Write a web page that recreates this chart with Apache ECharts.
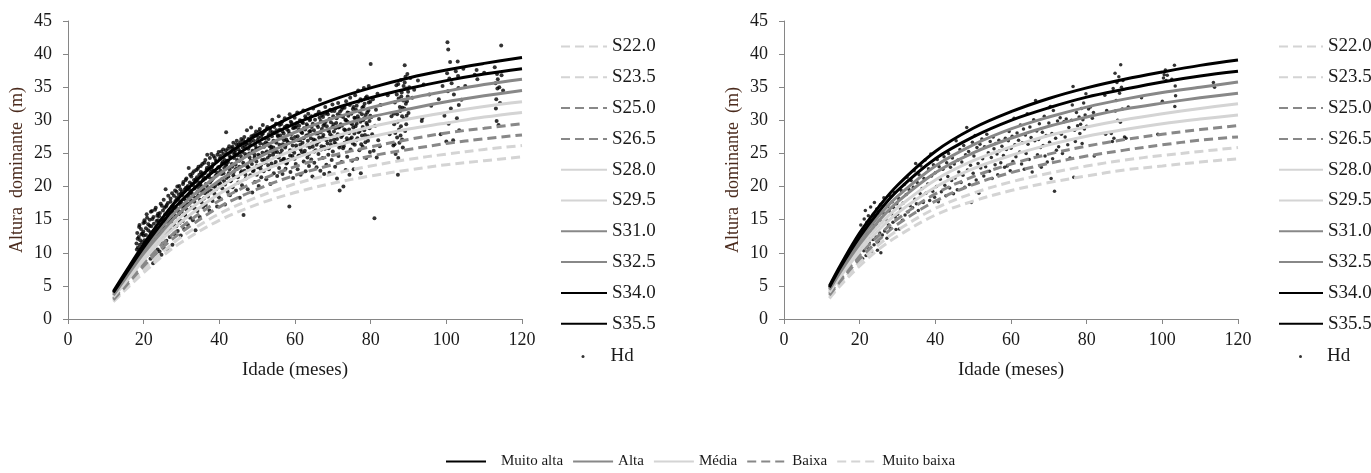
<!DOCTYPE html>
<html>
<head>
<meta charset="utf-8">
<script src="https://cdn.jsdelivr.net/npm/echarts@6/dist/echarts.min.js"></script>
<style>
  html, body { margin: 0; background: #fff; }
  #chart { width: 1371px; height: 473px; }
</style>
</head>
<body>
<div id="chart"></div>
<script>
const ages = [12, 15, 20, 25, 30, 40, 50, 60, 70, 80, 90, 100, 110, 120]
const siteNames = ['S22.0', 'S23.5', 'S25.0', 'S26.5', 'S28.0', 'S29.5', 'S31.0', 'S32.5', 'S34.0', 'S35.5']
const classNames = ['Muito alta', 'Alta', 'Média', 'Baixa', 'Muito baixa']
const xTicks = [0, 20, 40, 60, 80, 100, 120]
const yTicks = [0, 5, 10, 15, 20, 25, 30, 35, 40, 45]

// left panel, one row per site curve (same order as siteNames)
const curvesLeft = [
  [2.6, 4.3, 7.0, 9.5, 11.6, 14.9, 17.3, 19.1, 20.5, 21.6, 22.5, 23.3, 23.9, 24.5],
  [2.8, 4.5, 7.5, 10.1, 12.4, 15.9, 18.4, 20.4, 21.9, 23.1, 24.1, 24.9, 25.6, 26.2],
  [2.9, 4.8, 8.0, 10.8, 13.1, 16.9, 19.6, 21.7, 23.3, 24.6, 25.6, 26.5, 27.2, 27.8],
  [3.1, 5.1, 8.5, 11.4, 13.9, 17.9, 20.8, 23.0, 24.7, 26.0, 27.1, 28.1, 28.8, 29.5],
  [3.3, 5.4, 8.9, 12.1, 14.7, 18.9, 22.0, 24.3, 26.1, 27.5, 28.7, 29.6, 30.5, 31.2],
  [3.5, 5.7, 9.4, 12.7, 15.5, 19.9, 23.1, 25.6, 27.5, 29.0, 30.2, 31.2, 32.1, 32.8],
  [3.6, 6.0, 9.9, 13.3, 16.3, 20.9, 24.3, 26.9, 28.9, 30.5, 31.7, 32.8, 33.7, 34.5],
  [3.8, 6.3, 10.4, 14.0, 17.1, 21.9, 25.5, 28.2, 30.3, 31.9, 33.3, 34.4, 35.4, 36.2],
  [4.0, 6.6, 10.8, 14.6, 17.9, 23.0, 26.7, 29.5, 31.7, 33.4, 34.8, 36.0, 37.0, 37.8],
  [4.2, 6.9, 11.3, 15.3, 18.7, 24.0, 27.8, 30.8, 33.1, 34.9, 36.4, 37.6, 38.6, 39.5]
]

// right panel
const curvesRight = [
  [3.1, 5.1, 8.0, 10.5, 12.5, 15.7, 17.8, 19.4, 20.6, 21.6, 22.5, 23.1, 23.7, 24.2],
  [3.3, 5.5, 8.6, 11.2, 13.4, 16.7, 19.0, 20.7, 22.0, 23.1, 24.0, 24.7, 25.3, 25.9],
  [3.6, 5.8, 9.1, 11.9, 14.3, 17.8, 20.3, 22.1, 23.5, 24.6, 25.5, 26.3, 27.0, 27.5],
  [3.8, 6.1, 9.7, 12.6, 15.1, 18.9, 21.5, 23.4, 24.9, 26.1, 27.1, 27.9, 28.6, 29.2],
  [4.0, 6.5, 10.2, 13.4, 16.0, 19.9, 22.7, 24.7, 26.3, 27.6, 28.6, 29.5, 30.2, 30.8],
  [4.2, 6.8, 10.8, 14.1, 16.8, 21.0, 23.9, 26.0, 27.7, 29.0, 30.1, 31.0, 31.8, 32.5],
  [4.4, 7.2, 11.3, 14.8, 17.7, 22.1, 25.1, 27.3, 29.1, 30.5, 31.7, 32.6, 33.4, 34.1],
  [4.6, 7.5, 11.9, 15.5, 18.5, 23.1, 26.3, 28.7, 30.5, 32.0, 33.2, 34.2, 35.0, 35.8],
  [4.8, 7.9, 12.4, 16.2, 19.4, 24.2, 27.5, 30.0, 31.9, 33.5, 34.7, 35.8, 36.7, 37.4],
  [5.0, 8.2, 13.0, 16.9, 20.2, 25.3, 28.8, 31.3, 33.3, 34.9, 36.2, 37.3, 38.3, 39.1]
]

// observed dominant heights [age, Hd], left panel
const hdLeft = [
  [18.2,10.5],[18.4,12.1],[18.6,9.4],[18.8,13.9],[19.0,11.2],[19.2,10.1],[19.4,12.8],[19.6,11.6],[19.8,9.8],[19.9,13.2],
  [20.1,8.3],[20.2,11.9],[20.3,14.6],[20.5,10.4],[20.6,12.7],[20.8,9.6],[20.9,15.3],[21.0,11.3],[21.2,13.4],[21.3,10.0],[21.5,12.2],[21.6,14.1],[21.8,9.1],[21.9,16.2],[21.9,11.8],
  [22.1,10.7],[22.2,13.0],[22.3,15.1],[22.5,8.4],[22.6,12.3],[22.7,14.4],[22.9,11.0],[23.0,16.5],[23.1,9.9],[23.3,13.7],[23.4,12.0],[23.6,15.6],[23.7,10.5],[23.8,14.9],[23.9,11.6],
  [24.0,13.2],[24.2,10.2],[24.3,16.0],[24.4,12.5],[24.6,14.3],[24.7,9.7],[24.8,17.1],[25.0,11.4],[25.1,15.2],[25.2,13.8],[25.4,10.6],[25.5,16.8],[25.7,12.9],[25.8,19.6],[25.9,14.7],
  [26.0,11.8],[26.1,15.9],[26.3,13.1],[26.4,17.5],[26.5,10.4],[26.7,14.6],[26.8,16.4],[26.9,12.4],[27.1,18.2],[27.2,15.0],[27.3,13.5],[27.5,17.0],[27.6,11.2],[27.8,16.1],[27.9,14.2],
  [28.0,18.6],[28.2,12.8],[28.3,15.4],[28.4,17.8],[28.6,14.0],[28.7,19.2],[28.8,16.6],[29.0,13.3],[29.1,18.0],[29.3,15.8],[29.4,20.1],[29.5,14.5],[29.7,17.3],[29.8,12.6],[29.9,19.0],
  [30.0,16.2],[30.2,18.7],[30.3,14.8],[30.4,20.4],[30.6,17.1],[30.7,13.6],[30.8,19.5],[31.0,15.6],[31.1,21.0],[31.3,17.9],[31.4,16.5],[31.5,19.9],[31.7,14.2],[31.8,18.4],[31.9,22.8],
  [32.0,17.4],[32.2,20.6],[32.3,15.3],[32.4,19.1],[32.6,21.5],[32.7,16.8],[32.8,18.9],[33.0,14.9],[33.1,20.2],[33.3,22.3],[33.4,17.7],[33.5,19.7],[33.7,13.4],[33.8,21.1],[33.9,18.3],
  [34.0,20.9],[34.2,16.3],[34.3,22.7],[34.4,18.6],[34.6,19.8],[34.7,21.8],[34.8,15.4],[35.0,20.3],[35.1,23.1],[35.3,17.6],[35.4,19.3],[35.5,22.0],[35.7,16.9],[35.8,21.4],[35.9,18.2],
  [36.0,23.6],[36.2,19.0],[36.3,21.2],[36.4,17.2],[36.6,22.5],[36.7,20.1],[36.8,24.8],[37.0,18.5],[37.1,21.7],[37.3,23.0],[37.4,16.4],[37.5,20.6],[37.7,22.2],[37.8,19.4],[37.9,24.9],
  [38.0,21.0],[38.2,17.8],[38.3,23.4],[38.4,20.0],[38.6,22.4],[38.7,18.9],[38.8,24.3],[39.0,21.6],[39.1,19.6],[39.3,23.8],[39.4,17.0],[39.5,22.1],[39.7,20.4],[39.8,25.2],[39.9,18.4],
  [40.0,22.9],[40.2,20.5],[40.3,24.6],[40.4,18.1],[40.6,21.9],[40.7,23.5],[40.8,19.7],[41.0,25.6],[41.1,22.0],[41.3,20.8],[41.4,24.0],[41.5,17.3],[41.7,23.2],[41.8,28.2],[41.9,21.3],
  [42.0,25.0],[42.2,19.2],[42.3,23.7],[42.4,21.5],[42.6,26.1],[42.7,22.6],[42.8,18.7],[43.0,24.4],[43.1,20.9],[43.3,25.8],[43.4,23.0],[43.5,19.9],[43.7,26.6],[43.8,22.2],[43.9,24.9],
  [44.0,21.4],[44.2,25.5],[44.3,23.3],[44.4,19.4],[44.6,26.9],[44.7,22.7],[44.8,24.7],[45.0,20.6],[45.1,26.3],[45.3,23.9],[45.4,18.3],[45.5,25.3],[45.7,22.1],[45.8,27.2],[45.9,24.2],
  [46.0,20.2],[46.2,25.9],[46.3,23.6],[46.4,15.7],[46.6,27.5],[46.7,22.4],[46.8,24.9],[47.0,21.2],[47.1,26.4],[47.3,28.5],[47.4,23.1],[47.5,19.6],[47.7,25.7],[47.8,22.8],[47.9,27.0],
  [48.0,24.4],[48.2,21.7],[48.3,26.8],[48.4,28.9],[48.6,23.4],[48.7,19.1],[48.8,25.4],[49.0,27.7],[49.1,22.5],[49.3,24.8],[49.4,20.7],[49.5,26.2],[49.7,28.3],[49.8,23.8],[49.9,21.8],
  [50.0,25.8],[50.2,22.9],[50.3,27.4],[50.4,20.1],[50.6,24.6],[50.7,28.7],[50.8,26.5],[51.0,23.2],[51.1,21.4],[51.3,27.9],[51.4,25.1],[51.5,29.3],[51.7,22.3],[51.8,26.0],[51.9,24.1],
  [52.0,28.4],[52.2,23.7],[52.3,26.7],[52.4,21.1],[52.6,25.3],[52.7,29.0],[52.8,24.3],[53.0,27.2],[53.1,22.6],[53.3,26.1],[53.4,28.8],[53.5,20.4],[53.7,25.6],[53.8,23.5],[53.9,27.6],
  [54.0,30.1],[54.2,24.8],[54.3,26.9],[54.4,22.0],[54.6,28.1],[54.7,25.2],[54.8,23.3],[55.0,29.5],[55.1,26.6],[55.3,21.6],[55.4,27.8],[55.5,24.5],[55.7,30.6],[55.8,22.8],[55.9,26.3],
  [56.0,28.6],[56.2,25.0],[56.3,23.9],[56.4,27.3],[56.6,29.8],[56.7,21.9],[56.8,26.4],[57.0,28.0],[57.1,24.2],[57.3,30.3],[57.4,25.9],[57.5,22.7],[57.7,27.1],[57.8,29.2],[57.9,23.6],
  [58.0,26.8],[58.2,24.0],[58.3,28.4],[58.5,17.0],[58.6,30.9],[58.7,25.5],[58.8,22.2],[59.0,27.9],[59.1,29.6],[59.3,24.6],[59.4,26.2],[59.5,21.3],[59.7,28.9],[59.8,25.1],[59.9,30.4],
  [60.0,27.5],[60.2,23.4],[60.3,29.1],[60.4,25.8],[60.6,31.2],[60.7,22.6],[60.8,27.0],[61.0,28.6],[61.1,24.7],[61.3,30.0],[61.4,26.3],[61.5,21.8],[61.7,28.2],[61.8,25.2],[61.9,29.7],
  [62.0,26.6],[62.2,31.5],[62.3,23.8],[62.4,28.8],[62.6,25.4],[62.7,30.6],[62.8,22.3],[63.0,27.7],[63.1,29.4],[63.3,24.4],[63.4,26.9],[63.5,31.0],[63.7,23.1],[63.8,28.3],[63.9,25.9],
  [64.0,30.2],[64.2,27.3],[64.3,24.1],[64.4,29.0],[64.6,21.5],[64.7,26.0],[64.8,31.8],[65.0,28.5],[65.1,23.6],[65.3,27.0],[65.4,30.8],[65.5,25.5],[65.7,22.9],[65.8,29.3],[65.9,26.7],
  [66.0,28.0],[66.2,24.9],[66.3,31.3],[66.4,27.4],[66.6,33.1],[66.7,22.4],[66.8,29.9],[67.0,26.1],[67.1,28.7],[67.3,24.3],[67.4,30.5],[67.5,27.8],[67.7,21.9],[67.8,29.5],[67.9,25.7],
  [68.0,32.0],[68.2,27.2],[68.3,23.3],[68.4,29.1],[68.6,26.5],[68.7,30.9],[68.8,24.8],[69.0,28.3],[69.1,22.1],[69.3,31.6],[69.4,26.9],[69.5,29.7],[69.7,24.0],[69.8,27.6],[69.9,32.4],
  [70.0,25.3],[70.2,29.4],[70.3,27.1],[70.4,31.4],[70.6,23.0],[70.7,28.8],[70.8,26.4],[71.0,30.3],[71.1,21.2],[71.3,27.9],[71.4,32.6],[71.5,24.6],[71.7,29.0],[71.8,19.4],[71.9,26.2],
  [72.0,30.7],[72.2,27.5],[72.3,23.7],[72.4,29.2],[72.6,31.9],[72.7,25.8],[72.8,20.0],[73.0,28.6],[73.1,26.6],[73.3,30.1],[73.4,22.5],[73.5,32.9],[73.7,27.3],[73.8,24.5],[73.9,29.8],
  [74.0,26.9],[74.2,31.1],[74.3,28.1],[74.4,21.8],[74.6,33.4],[74.7,25.6],[74.8,29.6],[75.0,27.4],[75.1,23.9],[75.3,31.7],[75.4,28.9],[75.5,22.6],[75.7,30.4],[75.8,26.3],[75.9,33.8],
  [76.0,29.1],[76.2,27.0],[76.3,32.2],[76.4,24.2],[76.6,30.6],[76.7,34.5],[76.8,28.2],[77.0,25.5],[77.1,31.3],[77.3,29.8],[77.4,22.0],[77.5,33.0],[77.7,27.7],[77.8,31.9],[77.9,26.0],
  [78.0,30.0],[78.2,34.9],[78.3,28.5],[78.4,32.5],[78.6,26.7],[78.7,30.8],[78.8,24.3],[79.0,33.6],[79.1,29.3],[79.3,27.6],[79.4,31.5],[79.5,35.2],[79.7,29.9],[79.8,25.2],[79.9,32.8],
  [80.0,38.5],[80.2,30.5],[80.4,27.9],[80.6,33.2],[80.8,25.4],[81.0,15.2],[81.2,29.2],[81.4,31.6],[81.6,24.4],[81.8,34.0],[82.0,27.0],[82.2,30.2],[82.4,26.1],[82.6,32.3],
  [84.5,33.8],[85.0,27.9],[85.5,30.6],[86.0,26.2],[86.2,29.4],[86.4,32.7],[86.6,24.9],[86.8,35.3],[87.0,27.4],[87.0,30.9],[87.2,21.8],[87.4,33.3],[87.5,28.6],[87.6,26.6],[87.8,31.4],
  [88.0,36.1],[88.0,29.1],[88.2,34.2],[88.3,27.1],[88.4,31.9],[88.6,33.0],[88.8,30.2],[89.0,38.3],[89.0,35.7],[89.1,28.4],[89.3,32.5],[89.4,34.8],[89.5,30.7],[89.7,37.0],[89.8,33.6],
  [90.0,31.1],[90.2,35.0],[90.5,36.4],[91.0,33.4],[91.5,34.6],[87.3,24.3],[86.3,26.4],[88.5,25.9],
  [86.1,31.0],[86.5,28.1],[86.9,33.9],[87.1,29.8],[87.3,35.5],[87.7,32.0],[87.9,27.7],[88.1,33.6],[88.3,30.6],[88.7,35.2],[88.9,31.8],[89.2,36.6],[89.4,29.4],[89.6,32.9],[89.9,34.3],
  [92.5,36.0],[93.5,29.9],[93.6,30.3],[94.0,35.4],[95.5,33.9],[96.0,32.2],
  [98.0,33.2],[98.5,27.9],[99.0,35.2],[99.5,30.7],[100.0,26.8],[100.2,37.1],[100.3,41.8],[100.4,34.4],[100.5,40.7],[100.6,29.5],[100.8,36.3],[101.0,38.8],[101.2,31.8],
  [101.4,35.6],[101.8,27.0],[102.0,33.9],[102.5,37.4],[102.8,30.3],[103.0,38.9],[103.1,36.7],[103.2,34.9],[103.3,32.3],[103.4,28.5],[104.0,33.1],[104.5,37.8],[105.0,35.2],
  [107.5,36.9],[108.0,37.6],[108.2,36.2],[110.0,37.2],
  [112.8,38.0],[113.0,35.6],[113.1,31.8],[113.2,33.2],[113.3,29.9],[113.4,37.0],[113.5,34.8],[113.6,36.2],[114.0,35.0],[114.2,32.6],[114.5,41.3],[114.6,36.8],[115.0,34.5],[113.8,29.3],
  // denser upper band of the cloud
  [18.1,11.4],[18.3,13.0],[18.5,10.8],[18.7,12.4],[18.9,14.2],[19.1,11.9],[19.3,13.6],[19.5,10.6],[19.7,12.9],[19.9,14.5],
  [20.0,12.6],[20.2,14.9],[20.4,11.1],[20.6,13.7],[20.8,15.8],[21.0,12.0],[21.2,14.3],[21.4,10.9],[21.6,15.0],[21.8,13.1],
  [22.0,14.0],[22.2,16.3],[22.4,12.5],[22.6,15.4],[22.8,13.3],[23.0,11.6],[23.2,16.8],[23.4,14.8],[23.6,12.8],[23.8,15.9],
  [24.1,15.5],[24.3,13.5],[24.5,17.4],[24.7,14.9],[24.9,12.3],[25.1,16.4],[25.3,18.0],[25.5,13.9],[25.7,15.8],[25.9,17.0],
  [26.1,17.2],[26.3,14.8],[26.5,18.6],[26.7,16.0],[26.9,13.6],[27.1,17.7],[27.3,15.3],[27.5,19.0],[27.7,16.6],[27.9,14.4],
  [28.1,17.0],[28.3,19.4],[28.5,15.6],[28.7,18.3],[28.9,20.0],[29.1,16.3],[29.3,18.8],[29.5,14.9],[29.7,19.6],[29.9,17.6],
  [30.1,19.2],[30.3,16.9],[30.5,20.7],[30.7,18.1],[30.9,15.8],[31.1,19.8],[31.3,21.2],[31.5,17.3],[31.7,20.1],[31.9,18.8],
  [32.1,19.5],[32.3,21.8],[32.5,17.9],[32.7,20.4],[32.9,22.0],[33.1,18.5],[33.3,21.0],[33.5,16.7],[33.7,20.7],[33.9,22.5],
  [34.1,21.4],[34.3,19.2],[34.5,23.0],[34.7,20.6],[34.9,18.0],[35.1,22.2],[35.3,20.0],[35.5,23.4],[35.7,21.0],[35.9,19.6],
  [36.1,22.0],[36.3,24.0],[36.5,20.4],[36.7,22.8],[36.9,19.2],[37.1,23.5],[37.3,21.4],[37.5,24.3],[37.7,20.8],[37.9,22.6],
  [38.1,23.0],[38.3,21.2],[38.5,24.6],[38.7,22.3],[38.9,20.1],[39.1,23.9],[39.3,21.8],[39.5,24.8],[39.7,22.9],[39.9,20.6],
  [40.1,24.2],[40.3,22.4],[40.5,25.3],[40.7,21.1],[40.9,23.7],[41.1,24.9],[41.3,22.8],[41.5,20.3],[41.7,25.5],[41.9,23.4],
  [42.1,23.9],[42.3,25.7],[42.5,22.0],[42.7,24.6],[42.9,20.8],[43.1,25.2],[43.3,23.4],[43.5,26.0],[43.7,21.7],[43.9,24.3],
  [44.1,25.1],[44.3,22.6],[44.5,26.4],[44.7,24.0],[44.9,21.4],[45.1,25.6],[45.3,23.0],[45.5,26.7],[45.7,24.6],[45.9,22.3],
  [46.1,25.2],[46.3,27.0],[46.5,23.3],[46.7,26.1],[46.9,21.8],[47.1,24.7],[47.3,26.6],[47.5,22.9],[47.7,27.2],[47.9,25.0],
  [48.1,26.3],[48.3,23.9],[48.5,27.6],[48.7,25.1],[48.9,22.3],[49.1,26.9],[49.3,24.4],[49.5,27.9],[49.7,25.7],[49.9,23.1],
  [50.1,27.0],[50.3,24.8],[50.5,28.3],[50.7,25.9],[50.9,22.7],[51.1,27.5],[51.3,24.0],[51.5,28.0],[51.7,26.4],[51.9,23.6],
  [52.1,27.3],[52.3,25.1],[52.5,28.7],[52.7,26.5],[52.9,23.2],[53.1,27.9],[53.3,24.7],[53.5,28.4],[53.7,26.0],[53.9,25.3],
  [54.1,28.2],[54.3,25.9],[54.5,29.0],[54.7,26.8],[54.9,23.7],[55.1,28.5],[55.3,25.2],[55.5,27.6],[55.7,24.4],[55.9,29.3],
  [56.1,27.7],[56.3,29.4],[56.5,25.5],[56.7,28.3],[56.9,24.1],[57.1,27.0],[57.3,29.0],[57.5,26.2],[57.7,23.5],[57.9,28.6],
  [58.1,29.2],[58.3,26.6],[58.5,28.0],[58.7,24.7],[58.9,29.8],[59.1,27.3],[59.3,25.4],[59.5,28.8],[59.7,26.9],[59.9,24.2],
  [60.1,28.9],[60.3,26.2],[60.5,29.6],[60.7,27.6],[60.9,24.6],[61.1,29.2],[61.3,27.0],[61.5,25.6],[61.7,29.9],[61.9,28.1],
  [62.1,29.6],[62.3,27.3],[62.5,25.0],[62.7,28.6],[62.9,30.3],[63.1,26.2],[63.3,29.1],[63.5,27.8],[63.7,24.9],[63.9,30.0],
  [64.1,28.4],[64.3,30.6],[64.5,26.5],[64.7,29.5],[64.9,27.1],[65.1,25.3],[65.3,30.1],[65.5,28.0],[65.7,26.3],[65.9,30.9],
  [66.1,29.0],[66.3,26.8],[66.5,30.4],[66.7,28.2],[66.9,25.6],[67.1,30.8],[67.3,27.4],[67.5,29.2],[67.7,26.0],[67.9,31.0],
  [68.1,29.8],[68.3,27.0],[68.5,31.2],[68.7,28.5],[68.9,25.8],[69.1,30.2],[69.3,27.9],[69.5,26.3],[69.7,31.4],[69.9,29.0],
  [70.1,30.6],[70.3,28.3],[70.5,26.6],[70.7,31.8],[70.9,29.6],[71.1,27.2],[71.3,30.9],[71.5,28.9],[71.7,25.9],[71.9,31.3],
  [72.1,29.4],[72.3,31.6],[72.5,27.7],[72.7,30.5],[72.9,26.1],[73.1,31.9],[73.3,28.5],[73.5,30.0],[73.7,26.8],[73.9,31.2],
  [74.1,30.7],[74.3,28.6],[74.5,32.3],[74.7,27.2],[74.9,31.0],[75.1,29.4],[75.3,26.5],[75.5,32.0],[75.7,28.0],[75.9,30.3],
  [76.1,31.6],[76.3,29.5],[76.5,27.3],[76.7,32.8],[76.9,30.2],[77.1,28.4],[77.3,33.2],[77.5,26.4],[77.7,30.9],[77.9,29.0],
  [78.1,32.1],[78.3,30.3],[78.5,27.8],[78.7,33.4],[78.9,29.6],[79.1,31.2],[79.3,26.9],[79.5,32.7],[79.7,28.8],[79.9,30.7]
]

// observed dominant heights [age, Hd], right panel
const hdRight = [
  [20.3,14.2],[20.5,11.0],[20.6,12.5],[20.8,9.1],[20.9,13.4],[21.1,10.3],[21.2,15.1],[21.4,11.8],[21.5,16.4],[21.7,9.6],[21.8,12.9],[21.9,14.6],
  [22.0,10.8],[22.2,13.8],[22.3,15.6],[22.5,11.5],[22.6,14.9],[22.8,12.1],[22.9,16.9],[23.1,10.2],[23.2,13.1],[23.4,14.4],[23.5,12.0],[23.6,15.8],[23.8,11.2],[23.9,17.6],
  [24.0,13.6],[24.2,15.3],[24.3,12.4],[24.5,16.6],[24.7,10.4],[24.8,14.1],[25.0,11.6],[25.2,15.7],[25.3,13.0],[25.5,17.3],[25.6,10.0],[25.8,14.7],[26.0,12.7],[26.2,16.0],[26.4,18.3],[26.6,13.3],
  [27.0,15.0],[27.2,12.2],[27.4,17.0],[27.6,14.2],[27.8,16.3],[28.0,18.6],[28.2,13.7],[28.4,15.9],[28.6,17.7],[28.8,14.6],[29.0,16.8],[29.2,19.1],[29.4,15.4],[29.6,13.5],[29.8,17.4],
  [30.0,15.8],[30.3,18.2],[30.5,13.6],[30.8,16.6],[31.0,19.4],[31.3,14.9],[31.5,17.5],[31.8,20.3],[32.0,15.7],[32.3,18.8],[32.5,21.4],[32.8,16.2],[33.0,19.6],[33.3,17.1],[33.6,20.9],
  [34.0,16.8],[34.2,19.9],[34.4,22.4],[34.6,18.1],[34.8,23.5],[35.0,17.4],[35.2,20.6],[35.5,16.4],[35.7,21.8],[36.0,18.9],[36.2,23.1],[36.5,19.7],[36.8,17.6],[37.0,21.2],[37.3,24.0],[37.5,19.0],
  [38.0,20.4],[38.2,22.7],[38.5,17.9],[38.8,24.9],[39.0,21.6],[39.3,19.3],[39.5,23.3],[39.8,18.4],[40.0,22.1],[40.3,20.0],[40.5,24.1],[40.8,17.7],[41.0,23.0],[41.3,21.1],[41.6,19.2],
  [42.0,22.6],[42.3,24.5],[42.5,20.2],[42.8,18.6],[43.0,23.6],[43.3,21.5],[43.5,25.0],[43.8,19.8],[44.0,22.9],[44.3,20.9],[44.5,24.3],[44.8,18.9],[45.0,23.4],[45.2,21.3],[45.5,26.9],[45.8,19.5],
  [46.0,24.0],[46.2,22.2],[46.5,25.6],[46.8,20.6],[47.0,23.7],[47.3,21.7],[47.5,26.2],[47.8,19.9],[48.0,24.8],[48.3,28.9],[48.5,22.5],[48.8,25.3],[49.0,20.3],[49.3,23.2],[49.5,17.6],[49.8,26.7],
  [50.0,22.0],[50.2,24.6],[50.5,27.7],[50.8,21.0],[51.0,25.9],[51.3,23.5],[51.5,19.0],[51.8,26.4],[52.0,22.8],[52.3,27.2],[52.5,24.2],[52.8,21.6],[53.0,26.0],[53.3,23.0],[53.6,27.9],
  [54.0,25.1],[54.3,22.3],[54.5,26.8],[54.8,24.4],[55.0,21.2],[55.3,27.5],[55.5,25.7],[55.8,23.3],[56.0,26.5],[56.3,24.9],[56.5,21.8],[56.8,27.0],[57.0,25.4],[57.3,23.6],[57.6,26.1],
  [58.0,24.7],[58.3,22.9],[58.5,27.3],[58.8,25.6],[59.0,23.1],[59.3,26.9],[59.5,28.3],[59.8,22.4],[60.0,25.8],[60.3,27.6],[60.5,23.8],[60.8,30.3],[61.0,26.3],[61.3,24.5],[61.6,28.1],
  [62.0,27.0],[62.3,25.2],[62.5,29.3],[62.8,23.4],[63.0,26.6],[63.3,28.7],[63.5,22.6],[63.8,27.8],[64.0,25.0],[64.3,31.0],[64.5,26.4],[64.8,24.1],[65.0,29.0],[65.3,27.4],[65.6,22.2],
  [66.0,30.1],[66.3,26.9],[66.5,33.0],[66.8,28.4],[67.0,24.8],[67.3,27.1],[67.5,29.5],[67.8,25.9],[68.0,22.9],[68.3,28.2],[68.5,26.2],[68.8,30.6],[69.0,24.6],[69.3,27.7],[69.6,23.7],
  [70.0,29.6],[70.2,26.7],[70.4,32.1],[70.6,21.2],[70.8,28.0],[71.0,24.2],[71.2,31.5],[71.5,19.3],[71.8,27.3],[72.0,25.5],[72.3,29.9],[72.6,26.0],[73.0,30.4],[73.3,27.9],[73.6,25.0],
  [74.0,29.8],[74.3,27.5],[74.6,30.2],[75.0,26.3],[75.3,28.9],[75.6,24.3],[76.0,30.0],[76.2,32.3],[76.4,35.1],[76.6,21.4],[76.8,28.5],[77.0,26.8],[77.3,31.2],[77.6,29.2],
  [78.0,30.5],[78.2,28.0],[78.4,29.4],[78.6,31.8],[78.8,26.5],[79.0,30.1],[79.2,32.6],[79.4,28.7],[79.6,30.8],[79.8,34.0],[80.0,29.1],[80.5,31.7],[81.0,32.0],[81.5,30.3],[82.0,24.6],[81.8,31.2],
  [84.8,33.8],[85.0,27.9],[85.3,31.5],[86.5,28.0],[86.8,26.8],[87.0,34.8],[87.2,27.3],[87.5,37.1],[87.6,31.4],[87.8,33.0],[88.0,35.7],[88.2,30.0],[88.5,36.6],[88.7,34.1],[88.9,29.7],
  [89.0,38.4],[89.2,35.0],[89.4,31.7],[89.6,36.0],[90.0,27.5],[90.4,27.3],[91.0,32.0],
  [94.5,33.4],[98.8,27.9],[100.0,32.9],[100.3,36.4],[100.5,36.9],[100.8,37.6],[101.0,36.0],[101.3,36.8],[102.5,36.2],[103.2,38.3],[103.4,35.2],[103.5,33.7],[103.3,32.1],
  [113.5,35.7],[113.8,35.0]
]

const font = 'Liberation Serif'
const textColor = '#1a1a1a'
const axisGray = '#868686'
const lightGray = '#d4d4d4'
const midGray = '#888888'

const classStyle = {
  'Muito alta': { color: '#000000', type: 'solid' },
  'Alta': { color: midGray, type: 'solid' },
  'Média': { color: lightGray, type: 'solid' },
  'Baixa': { color: midGray, type: [9, 5] },
  'Muito baixa': { color: lightGray, type: [9, 5] }
}
// productivity class of each site curve
const siteClass = ['Muito baixa', 'Muito baixa', 'Baixa', 'Baixa', 'Média', 'Média', 'Alta', 'Alta', 'Muito alta', 'Muito alta']

function lineStyleOf(cls) {
  const s = classStyle[cls]
  return { color: s.color, type: s.type, width: 3 }
}

function curveSeries(curves, gridIndex) {
  return curves.map((row, i) => ({
    name: siteNames[i],
    type: 'line',
    xAxisIndex: gridIndex,
    yAxisIndex: gridIndex,
    data: row.map((v, j) => [ages[j], v]),
    smooth: 0.35,
    symbol: 'none',
    z: 3,
    color: classStyle[siteClass[i]].color,
    lineStyle: lineStyleOf(siteClass[i])
  }))
}

function scatterSeries(points, gridIndex, size) {
  return {
    name: 'Hd',
    type: 'scatter',
    xAxisIndex: gridIndex,
    yAxisIndex: gridIndex,
    data: points,
    symbol: 'circle',
    symbolSize: size,
    z: 2,
    itemStyle: { color: '#000' }
  }
}

function xAxisOf(gridIndex) {
  return {
    gridIndex: gridIndex,
    type: 'value',
    min: xTicks[0],
    max: xTicks[xTicks.length - 1],
    interval: 20,
    name: 'Idade (meses)',
    nameLocation: 'middle',
    nameGap: 42,
    nameTextStyle: { fontFamily: font, fontSize: 19, color: textColor },
    axisLine: { lineStyle: { color: axisGray } },
    axisTick: { length: 5, lineStyle: { color: axisGray } },
    axisLabel: { fontFamily: font, fontSize: 18, color: textColor, margin: 12 },
    splitLine: { show: false }
  }
}

function yAxisOf(gridIndex) {
  return {
    gridIndex: gridIndex,
    type: 'value',
    min: yTicks[0],
    max: yTicks[yTicks.length - 1],
    interval: 5,
    name: 'Altura  dominante  (m)',
    nameLocation: 'middle',
    nameGap: 42,
    nameTextStyle: { fontFamily: font, fontSize: 18, color: '#4a2a1c' },
    axisLine: { show: true, lineStyle: { color: axisGray } },
    axisTick: { show: true, length: 5, lineStyle: { color: axisGray } },
    axisLabel: { fontFamily: font, fontSize: 18, color: textColor, margin: 16 },
    splitLine: { show: false }
  }
}

const sideText = { fontFamily: font, fontSize: 19, color: textColor, lineHeight: 18 }

function siteLegend(left, lineLen) {
  return {
    orient: 'vertical',
    left: left,
    top: 37,
    padding: 0,
    itemWidth: lineLen,
    itemHeight: 14,
    itemGap: 11.8,
    selectedMode: false,
    itemStyle: { opacity: 0 },
    data: siteNames,
    textStyle: sideText
  }
}

function hdLegend(left, pad) {
  return {
    orient: 'vertical',
    left: left,
    top: 347,
    padding: 0,
    itemWidth: 3,
    itemHeight: 3,
    selectedMode: false,
    data: ['Hd'],
    textStyle: Object.assign({ padding: [0, 0, 0, pad] }, sideText)
  }
}

// empty series that only feed the bottom legend
const classSeries = classNames.map(cls => ({
  name: cls,
  type: 'line',
  xAxisIndex: 0,
  yAxisIndex: 0,
  data: [],
  symbol: 'none',
  color: classStyle[cls].color,
  lineStyle: lineStyleOf(cls)
}))

const bottomLegendData = classNames.map((cls, i) => (
  i === 0 ? { name: cls, textStyle: { padding: [0, 0, 0, 10] } } : { name: cls }
))

const chart = echarts.init(document.getElementById('chart'), null, { renderer: 'canvas' })
chart.setOption({
  backgroundColor: '#ffffff',
  animation: false,
  grid: [
    { left: 68, right: 849, top: 21, bottom: 154 },
    { left: 784, right: 133, top: 21, bottom: 154 }
  ],
  xAxis: [xAxisOf(0), xAxisOf(1)],
  yAxis: [yAxisOf(0), yAxisOf(1)],
  legend: [
    siteLegend(560, 46),
    hdLegend(581.5, 21),
    siteLegend(1278, 44),
    hdLegend(1299, 20),
    {
      orient: 'horizontal',
      left: 445,
      top: 454,
      padding: 0,
      itemWidth: 40,
      itemHeight: 10,
      itemGap: 9,
      selectedMode: false,
      itemStyle: { opacity: 0 },
      data: bottomLegendData,
      textStyle: { fontFamily: font, fontSize: 15, color: textColor }
    }
  ],
  series: [
    scatterSeries(hdLeft, 0, 4),
    scatterSeries(hdRight, 1, 3.5),
    ...curveSeries(curvesLeft, 0),
    ...curveSeries(curvesRight, 1),
    ...classSeries
  ]
})
</script>
</body>
</html>
